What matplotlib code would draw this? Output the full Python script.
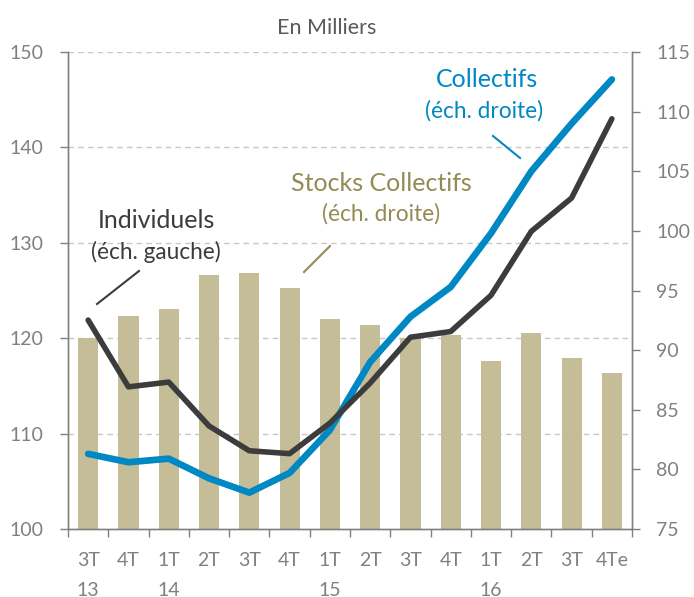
import matplotlib
matplotlib.use("Agg")
import matplotlib.pyplot as plt
import numpy as np

plt.rcParams['font.family'] = ['Lato', 'DejaVu Sans']

quarters = ["3T", "4T", "1T", "2T", "3T", "4T", "1T", "2T", "3T", "4T", "1T", "2T", "3T", "4Te"]
years = ["13", "", "14", "", "", "", "15", "", "", "", "16", "", "", ""]
stocks_collectifs = [91.0, 92.9, 93.45, 96.3, 96.5, 95.2, 92.6, 92.1, 91.0, 91.3,
                     89.1, 91.4, 89.3, 88.1]
individuels = [121.9, 114.9, 115.4, 110.8, 108.2, 107.9, 111.1, 115.3, 120.1, 120.7,
               124.5, 131.2, 134.7, 143.0]
collectifs = [81.3, 80.6, 80.9, 79.25, 78.05, 79.7, 83.3, 89.0, 92.8, 95.3,
              99.8, 105.0, 109.0, 112.7]
left_ticks = [100, 110, 120, 130, 140, 150]
right_ticks = [75, 80, 85, 90, 95, 100, 105, 110, 115]

grey = "#808080"
tan = "#c4bd97"
olive = "#948a54"
blue = "#0088c4"
dark = "#3c3c3c"

fig = plt.figure(figsize=(6.94, 5.97), dpi=100)
ax = fig.add_axes([0.098, 0.1139, 0.8127, 0.799])
ax2 = ax.twinx()

x = np.arange(len(quarters))

# bars and collectifs on right axis
ax2.bar(x, [v - 75 for v in stocks_collectifs], bottom=75, width=0.5, color=tan, zorder=2)
ax2.plot(x, collectifs, color=blue, lw=4.8, solid_capstyle='round', solid_joinstyle='round', zorder=4)
ax2.set_ylim(75, 115)
ax2.set_yticks(right_ticks)

# individuels on left axis
ax.set_zorder(ax2.get_zorder() + 1)
ax.patch.set_visible(False)
ax.plot(x, individuels, color=dark, lw=4.0, solid_capstyle='round', solid_joinstyle='round', zorder=3)
ax.set_ylim(100, 150)
ax.set_yticks(left_ticks)
ax.set_xlim(-0.5, 13.5)

# gridlines (left-axis majors) drawn behind bars
for yv in left_ticks[1:]:
    ax2.axhline(75 + (yv - 100) * 0.8, color="#c8c8c8", lw=1.0, ls=(0, (4, 3)), zorder=1)

# x ticks at boundaries; labels as text at category centers
ax.set_xticks(np.arange(-0.5, 14, 1))
ax.set_xticklabels([])
ax.tick_params(axis='x', which='major', length=6, width=1, color=grey, direction='out')
ax.tick_params(axis='y', length=6, width=1, color=grey, labelsize=14, labelcolor=grey, pad=12)
ax2.tick_params(axis='y', length=6, width=1, color=grey, labelsize=14, labelcolor=grey, pad=11.5)
ax2.tick_params(axis='x', length=0)

for a in (ax, ax2):
    a.spines['top'].set_visible(False)
    for s in ['left', 'right', 'bottom']:
        a.spines[s].set_color(grey)
        a.spines[s].set_linewidth(1.0)

def fx(px):
    return (px - 68) / (632 - 68)

def fy(py):
    return (529 - py) / (529 - 52)

xt = ax.get_xaxis_transform()
for xi, q, yr in zip(x, quarters, years):
    ax.text(xi, fy(560), q, transform=xt, ha='center', va='center', fontsize=14, color=grey)
    if yr:
        ax.text(xi, fy(590), yr, transform=xt, ha='center', va='center', fontsize=14, color=grey)

fig.text(327 / 694, 1 - 28 / 597, "En Milliers", ha='center', va='center', fontsize=15.5, color="#595959")

ax.text(fx(487), fy(80), "Collectifs", transform=ax.transAxes, ha='center', va='center',
        fontsize=18, color=blue)
ax.text(fx(484), fy(111), "(éch. droite)", transform=ax.transAxes, ha='center', va='center',
        fontsize=16.3, color=blue)
ax.plot([fx(493), fx(520)], [fy(136), fy(158)], transform=ax.transAxes, color=blue, lw=1.5)

ax.text(fx(381), fy(184), "Stocks Collectifs", transform=ax.transAxes, ha='center', va='center',
        fontsize=18, color=olive)
ax.text(fx(381), fy(214), "(éch. droite)", transform=ax.transAxes, ha='center', va='center',
        fontsize=16.3, color=olive)
ax.plot([fx(330), fx(304)], [fy(246), fy(272)], transform=ax.transAxes, color=olive, lw=1.5)

ax.text(fx(156), fy(221), "Individuels", transform=ax.transAxes, ha='center', va='center',
        fontsize=18, color=dark)
ax.text(fx(156), fy(252), "(éch. gauche)", transform=ax.transAxes, ha='center', va='center',
        fontsize=16.3, color=dark)
ax.plot([fx(139), fx(97)], [fy(271), fy(304)], transform=ax.transAxes, color=dark, lw=1.5)

fig.savefig("out.png", dpi=100)
